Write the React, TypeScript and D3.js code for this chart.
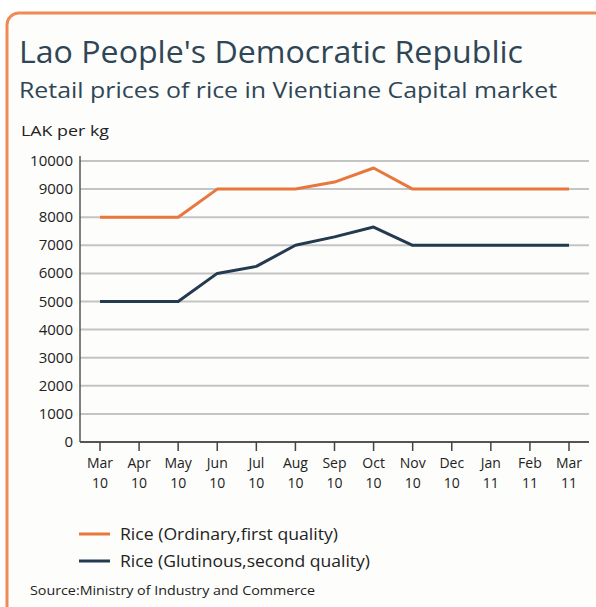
import { useEffect, useRef } from "react";
import * as d3 from "d3";

// data
const months = ["Mar", "Apr", "May", "Jun", "Jul", "Aug", "Sep", "Oct", "Nov", "Dec", "Jan", "Feb", "Mar"];
const years = ["10", "10", "10", "10", "10", "10", "10", "10", "10", "10", "11", "11", "11"];
const ordinary = [8000, 8000, 8000, 9000, 9000, 9000, 9250, 9750, 9000, 9000, 9000, 9000, 9000];
const glutinous = [5000, 5000, 5000, 6000, 6250, 7000, 7300, 7650, 7000, 7000, 7000, 7000, 7000];
const yTicks = [0, 1000, 2000, 3000, 4000, 5000, 6000, 7000, 8000, 9000, 10000];
const seriesNames = ["Rice (Ordinary,first quality)", "Rice (Glutinous,second quality)"];
const legendWidths = [218, 250];

const ORANGE = "#e8773d";
const NAVY = "#233a50";
const TEXT = "#2f4656";
const FONT = "'Open Sans', 'Noto Sans', sans-serif";

const App = () => {
  const ref = useRef<SVGSVGElement>(null);

  useEffect(() => {
    if (!ref.current) return;
    const svg = d3.select(ref.current);
    svg.selectAll("*").remove();

    const x = d3.scalePoint<number>().domain(d3.range(months.length)).range([100, 569]);
    const y = d3.scaleLinear().domain([0, 10000]).range([442, 161]);

    // frame
    svg
      .append("rect")
      .attr("x", 7)
      .attr("y", 13)
      .attr("width", 700)
      .attr("height", 700)
      .attr("rx", 12)
      .attr("fill", "#fdfdfb")
      .attr("stroke", "#f08a52")
      .attr("stroke-width", 3);

    // titles
    svg
      .append("text")
      .attr("x", 19)
      .attr("y", 63)
      .attr("font-size", 31)
      .attr("fill", TEXT)
      .attr("textLength", 504)
      .attr("lengthAdjust", "spacingAndGlyphs")
      .text("Lao People's Democratic Republic");
    svg
      .append("text")
      .attr("x", 19)
      .attr("y", 98)
      .attr("font-size", 22.5)
      .attr("fill", TEXT)
      .attr("textLength", 538)
      .attr("lengthAdjust", "spacingAndGlyphs")
      .text("Retail prices of rice in Vientiane Capital market");
    svg
      .append("text")
      .attr("x", 21)
      .attr("y", 136)
      .attr("font-size", 14.5)
      .attr("fill", "#222")
      .attr("textLength", 88)
      .attr("lengthAdjust", "spacingAndGlyphs")
      .text("LAK per kg");

    // gridlines
    svg
      .append("g")
      .selectAll("line")
      .data(yTicks.filter((d) => d > 0))
      .join("line")
      .attr("x1", 80)
      .attr("x2", 589)
      .attr("y1", (d) => y(d))
      .attr("y2", (d) => y(d))
      .attr("stroke", "#c4c4c4")
      .attr("stroke-width", 2);

    // y tick labels
    svg
      .append("g")
      .selectAll("text")
      .data(yTicks)
      .join("text")
      .attr("x", 73)
      .attr("y", (d) => y(d) + 5)
      .attr("text-anchor", "end")
      .attr("font-size", 15)
      .attr("fill", "#222")
      .text((d) => d);

    // axes
    svg
      .append("line")
      .attr("x1", 80)
      .attr("x2", 80)
      .attr("y1", 156)
      .attr("y2", 442)
      .attr("stroke", "#555")
      .attr("stroke-width", 1.5);
    svg
      .append("line")
      .attr("x1", 80)
      .attr("x2", 589)
      .attr("y1", 442)
      .attr("y2", 442)
      .attr("stroke", "#555")
      .attr("stroke-width", 2);

    const xg = svg.append("g");
    const idx = d3.range(months.length);
    xg.selectAll("line")
      .data(idx)
      .join("line")
      .attr("x1", (d) => x(d)!)
      .attr("x2", (d) => x(d)!)
      .attr("y1", 442)
      .attr("y2", 451)
      .attr("stroke", "#444")
      .attr("stroke-width", 1.5);
    xg.selectAll("text.m")
      .data(idx)
      .join("text")
      .attr("class", "m")
      .attr("x", (d) => x(d)!)
      .attr("y", 468)
      .attr("text-anchor", "middle")
      .attr("font-size", 14)
      .attr("fill", "#222")
      .text((d) => months[d]);
    xg.selectAll("text.yr")
      .data(idx)
      .join("text")
      .attr("class", "yr")
      .attr("x", (d) => x(d)!)
      .attr("y", 488)
      .attr("text-anchor", "middle")
      .attr("font-size", 14)
      .attr("fill", "#222")
      .text((d) => years[d]);

    // lines
    const line = d3
      .line<number>()
      .x((_d, i) => x(i)!)
      .y((d) => y(d));
    [ordinary, glutinous].forEach((s, i) => {
      svg
        .append("path")
        .attr("d", line(s))
        .attr("fill", "none")
        .attr("stroke", i === 0 ? ORANGE : NAVY)
        .attr("stroke-width", 3)
        .attr("stroke-linejoin", "round");
    });

    // legend
    seriesNames.forEach((name, i) => {
      const ly = 534 + i * 27;
      svg
        .append("line")
        .attr("x1", 79)
        .attr("x2", 110)
        .attr("y1", ly)
        .attr("y2", ly)
        .attr("stroke", i === 0 ? ORANGE : NAVY)
        .attr("stroke-width", 3);
      svg
        .append("text")
        .attr("x", 120)
        .attr("y", ly + 5.5)
        .attr("font-size", 17)
        .attr("fill", "#222")
        .attr("textLength", legendWidths[i])
        .attr("lengthAdjust", "spacingAndGlyphs")
        .text(name);
    });

    svg
      .append("text")
      .attr("x", 30)
      .attr("y", 595)
      .attr("font-size", 13.5)
      .attr("fill", "#222")
      .attr("textLength", 285)
      .attr("lengthAdjust", "spacingAndGlyphs")
      .text("Source:Ministry of Industry and Commerce");
  }, []);

  return (
    <svg
      ref={ref}
      width={596}
      height={607}
      style={{ position: "absolute", left: 0, top: 0, fontFamily: FONT, background: "#fff" }}
    />
  );
};

export default App;
